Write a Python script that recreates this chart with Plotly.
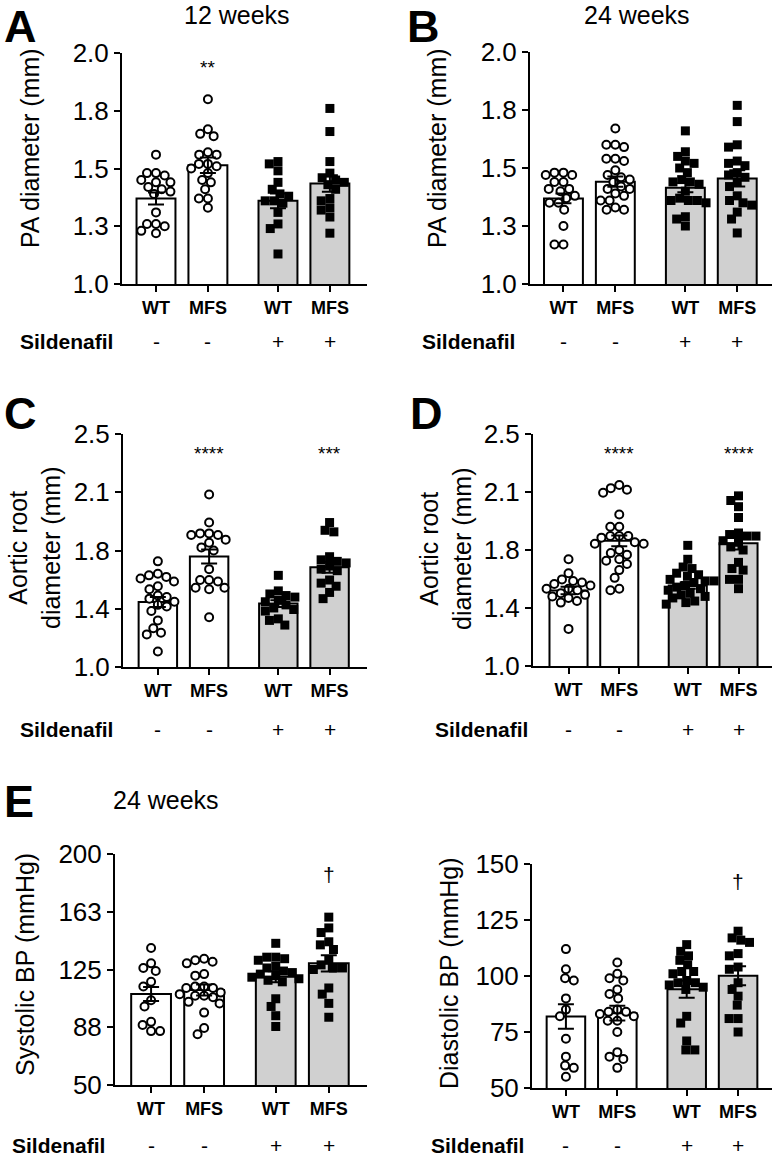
import numpy as np
import plotly.graph_objects as go

W, H = 776, 1158
FONT = "Liberation Sans, Arial, Helvetica, sans-serif"

# ---------------- data ----------------
groups = ["WT", "MFS", "WT", "MFS"]
sildenafil = ["-", "-", "+", "+"]
xpos = [0, 1, 2.35, 3.35]

# Panel A: PA diameter (mm), 12 weeks
a_wt = [1.56, 1.48, 1.48, 1.47, 1.44, 1.44, 1.45, 1.42, 1.41, 1.40, 1.39, 1.31, 1.26, 1.25, 1.26, 1.23, 1.22]
a_mfs = [1.80, 1.67, 1.64, 1.65, 1.56, 1.57, 1.56, 1.52, 1.52, 1.51, 1.50, 1.48, 1.45, 1.44, 1.41, 1.37, 1.37, 1.33]
a_wt_s = [1.52, 1.53, 1.49, 1.44, 1.41, 1.39, 1.38, 1.36, 1.36, 1.35, 1.31, 1.26, 1.24, 1.13]
a_mfs_s = [1.76, 1.66, 1.53, 1.48, 1.46, 1.45, 1.44, 1.43, 1.41, 1.37, 1.36, 1.32, 1.33, 1.29, 1.22]
a_means = [1.370, 1.514, 1.360, 1.435]
a_sems = [0.026, 0.034, 0.032, 0.036]
a_sig = ["", "**", "", ""]

# Panel B: PA diameter (mm), 24 weeks
b_wt = [1.48, 1.48, 1.47, 1.47, 1.44, 1.44, 1.41, 1.40, 1.41, 1.38, 1.37, 1.35, 1.35, 1.32, 1.25, 1.17, 1.17]
b_mfs = [1.67, 1.60, 1.59, 1.60, 1.54, 1.53, 1.54, 1.49, 1.47, 1.46, 1.45, 1.44, 1.42, 1.41, 1.41, 1.39, 1.38, 1.36, 1.36, 1.33, 1.32, 1.32]
b_wt_s = [1.66, 1.57, 1.55, 1.53, 1.52, 1.50, 1.48, 1.45, 1.44, 1.44, 1.43, 1.40, 1.37, 1.36, 1.36, 1.36, 1.35, 1.29, 1.28, 1.25]
b_mfs_s = [1.77, 1.70, 1.60, 1.59, 1.53, 1.52, 1.51, 1.48, 1.47, 1.46, 1.44, 1.42, 1.38, 1.36, 1.35, 1.34, 1.31, 1.28, 1.22]
b_means = [1.369, 1.441, 1.415, 1.455]
b_sems = [0.021, 0.022, 0.020, 0.035]
b_sig = ["", "", "", ""]

# Panel C: Aortic root diameter (mm), 12 weeks
c_wt = [1.68, 1.60, 1.59, 1.58, 1.57, 1.55, 1.52, 1.50, 1.46, 1.45, 1.44, 1.42, 1.40, 1.39, 1.36, 1.30, 1.25, 1.22, 1.21, 1.10]
c_mfs = [2.11, 1.93, 1.86, 1.85, 1.85, 1.86, 1.82, 1.80, 1.77, 1.75, 1.63, 1.56, 1.56, 1.55, 1.51, 1.51, 1.50, 1.32]
c_wt_s = [1.59, 1.49, 1.47, 1.46, 1.45, 1.43, 1.42, 1.40, 1.38, 1.37, 1.36, 1.31, 1.30, 1.27]
c_mfs_s = [1.93, 1.88, 1.87, 1.71, 1.69, 1.68, 1.67, 1.65, 1.63, 1.62, 1.56, 1.54, 1.52, 1.48, 1.44]
c_means = [1.418, 1.712, 1.408, 1.642]
c_sems = [0.032, 0.045, 0.022, 0.035]
c_sig = ["", "****", "", "***"]

# Panel D: Aortic root diameter (mm), 24 weeks
d_wt = [1.69, 1.60, 1.56, 1.55, 1.54, 1.53, 1.52, 1.50, 1.50, 1.49, 1.47, 1.46, 1.45, 1.44, 1.42, 1.41, 1.24]
d_mfs = [2.17, 2.14, 2.12, 2.15, 1.98, 1.90, 1.90, 1.84, 1.83, 1.84, 1.84, 1.80, 1.79, 1.79, 1.75, 1.73, 1.72, 1.69, 1.66, 1.62, 1.57, 1.50, 1.49, 1.68]
d_wt_s = [1.78, 1.69, 1.64, 1.63, 1.60, 1.59, 1.58, 1.56, 1.55, 1.55, 1.54, 1.52, 1.51, 1.50, 1.49, 1.47, 1.46, 1.45, 1.44, 1.42, 1.41, 1.40]
d_mfs_s = [2.10, 2.07, 2.03, 1.96, 1.86, 1.85, 1.84, 1.84, 1.81, 1.80, 1.77, 1.75, 1.67, 1.63, 1.62, 1.56, 1.56, 1.50]
d_means = [1.488, 1.809, 1.520, 1.794]
d_sems = [0.024, 0.034, 0.021, 0.040]
d_sig = ["", "****", "", "****"]

# Panel E: Systolic BP (mmHg), 24 weeks
e_wt = [139, 129, 126, 124, 117, 114, 105, 101, 91, 89, 85, 85]
e_mfs = [132, 131, 130, 129, 122, 121, 114, 114, 113, 113, 109, 108, 108, 107, 104, 103, 97, 87, 83, 110]
e_wt_s = [142, 133, 133, 132, 131, 127, 126, 124, 123, 122, 121, 120, 119, 118, 117, 106, 101, 95, 88]
e_mfs_s = [159, 152, 149, 143, 141, 138, 131, 128, 126, 126, 125, 113, 109, 103, 94]
e_means = [109.1, 111.7, 120.3, 129.0]
e_sems = [4.6, 3.6, 3.5, 5.3]
e_sig = ["", "", "", "\u2020"]

# Panel F: Diastolic BP (mmHg), 24 weeks
f_wt = [112, 103, 99, 98, 90, 85, 82, 72, 64, 60, 59, 55]
f_mfs = [106, 101, 99, 98, 94, 92, 90, 85, 84, 84, 83, 82, 80, 80, 75, 66, 64, 63, 59]
f_wt_s = [114, 111, 109, 107, 105, 102, 102, 101, 98, 97, 97, 96, 94, 82, 79, 71, 67, 67, 95]
f_mfs_s = [120, 117, 116, 115, 110, 109, 104, 103, 97, 94, 91, 87, 81, 81, 75]
f_means = [81.9, 83.4, 94.1, 100.1]
f_sems = [5.5, 3.3, 3.8, 4.2]
f_sig = ["", "", "", "\u2020"]

ticks_pa = [1.0, 1.25, 1.5, 1.75, 2.0]
ticktext_pa = ["1.0", "1.3", "1.5", "1.8", "2.0"]
ticks_ao = [1.0, 1.375, 1.75, 2.125, 2.5]
ticktext_ao = ["1.0", "1.4", "1.8", "2.1", "2.5"]
ticks_sbp = [50, 87.5, 125, 162.5, 200]
ticktext_sbp = ["50", "88", "125", "163", "200"]
ticks_dbp = [50, 75, 100, 125, 150]
ticktext_dbp = ["50", "75", "100", "125", "150"]

# ---------------- layout spec (page pixels) ----------------
panels = [
    dict(data=[a_wt, a_mfs, a_wt_s, a_mfs_s], means=a_means, sems=a_sems, sig=a_sig, sig_y=1.955,
         px=(122, 367), py=(53, 284), yr=(1.0, 2.0), xr=(-0.655, 4.065),
         tv=ticks_pa, tt=ticktext_pa, title="PA diameter (mm)", tx=30, ty=148,
         letter="A", lx=3, ly=0, row=341, sx=18, head="12 weeks", hx=237, hy=15),
    dict(data=[b_wt, b_mfs, b_wt_s, b_mfs_s], means=b_means, sems=b_sems, sig=b_sig, sig_y=1.95,
         px=(530, 772), py=(52, 284), yr=(1.0, 2.0), xr=(-0.645, 4.02),
         tv=ticks_pa, tt=ticktext_pa, title="PA diameter (mm)", tx=437, ty=148,
         letter="B", lx=406, ly=0, row=341, sx=420, head="24 weeks", hx=637, hy=15),
    dict(data=[c_wt, c_mfs, c_wt_s, c_mfs_s], means=c_means, sems=c_sems, sig=c_sig, sig_y=2.40,
         px=(123, 367), py=(434, 667), yr=(1.0, 2.5), xr=(-0.68, 4.08),
         tv=ticks_ao, tt=ticktext_ao, title="Aortic root<br>diameter (mm)", tx=34, ty=548,
         letter="C", lx=3, ly=387, row=730, sx=18, head=None),
    dict(data=[d_wt, d_mfs, d_wt_s, d_mfs_s], means=d_means, sems=d_sems, sig=d_sig, sig_y=2.40,
         px=(533, 772), py=(434, 666), yr=(1.0, 2.5), xr=(-0.70, 4.01),
         tv=ticks_ao, tt=ticktext_ao, title="Aortic root<br>diameter (mm)", tx=445, ty=548,
         letter="D", lx=409, ly=387, row=730, sx=433, head=None),
    dict(data=[e_wt, e_mfs, e_wt_s, e_mfs_s], means=e_means, sems=e_sems, sig=e_sig, sig_y=187.0,
         px=(115, 367), py=(854, 1085), yr=(50, 200), xr=(-0.68, 4.07),
         tv=ticks_sbp, tt=ticktext_sbp, title="Systolic BP (mmHg)", tx=25, ty=965,
         letter="E", lx=3, ly=775, row=1145, sx=10, head="24 weeks", hx=166, hy=800),
    dict(data=[f_wt, f_mfs, f_wt_s, f_mfs_s], means=f_means, sems=f_sems, sig=f_sig, sig_y=142.0,
         px=(532, 772), py=(864, 1088), yr=(50, 150), xr=(-0.66, 4.01),
         tv=ticks_dbp, tt=ticktext_dbp, title="Diastolic BP (mmHg)", tx=449, ty=973,
         letter=None, row=1145, sx=429, head=None),
]


def PX(v):
    return v / W


def PY(v):
    return 1 - v / H


def beeswarm(vals, sy, sx, d):
    vals = np.asarray(vals, dtype=float)
    order = np.argsort(-vals, kind="stable")
    placed = []
    offs = np.zeros(len(vals))
    for i in order:
        y = vals[i] * sy
        forb = []
        for (px_, py_) in placed:
            dy = abs(py_ - y)
            if dy < d:
                dx = np.sqrt(d * d - dy * dy)
                forb.append((px_ - dx, px_ + dx))
        cands = [0.0] + [a for a, b in forb] + [b for a, b in forb]
        cands.sort(key=lambda c: (abs(c), c))
        xx = 0.0
        for c in cands:
            if all(not (a + 1e-6 < c < b - 1e-6) for a, b in forb):
                xx = c
                break
        placed.append((xx, y))
        offs[i] = xx / sx
    return offs


fig = go.Figure()
annotations = []
fills = ["white", "white", "#d0d0d0", "#d0d0d0"]

for k, p in enumerate(panels):
    n = "" if k == 0 else str(k + 1)
    xa, ya = "x" + n, "y" + n
    x0, x1 = p["px"]
    y0, y1 = p["py"]
    sxu = (x1 - x0) / (p["xr"][1] - p["xr"][0])
    syu = (y1 - y0) / (p["yr"][1] - p["yr"][0])

    fig.add_trace(go.Bar(x=xpos, y=p["means"], width=0.75, marker=dict(color=fills, line=dict(color="black", width=2)),
                         xaxis=xa, yaxis=ya, showlegend=False, hoverinfo="skip"))
    for j, vals in enumerate(p["data"]):
        offs = beeswarm(vals, syu, sxu, 9.0)
        xs = [xpos[j] + o for o in offs]
        if j < 2:
            mk = dict(symbol="circle", size=8, color="white", line=dict(color="black", width=2))
        else:
            mk = dict(symbol="square", size=9, color="black", line=dict(width=0))
        fig.add_trace(go.Scatter(x=xs, y=vals, mode="markers", marker=mk, xaxis=xa, yaxis=ya,
                                 showlegend=False, cliponaxis=False, hoverinfo="skip"))
    fig.add_trace(go.Scatter(x=xpos, y=p["means"], mode="markers", marker=dict(size=1, opacity=0),
                             error_y=dict(type="data", array=p["sems"], color="black", thickness=2, width=8),
                             xaxis=xa, yaxis=ya, showlegend=False, hoverinfo="skip"))

    fig.layout["xaxis" + n] = dict(domain=[PX(x0), PX(x1)], range=list(p["xr"]), anchor=ya, automargin=False,
                                   showline=True, linewidth=2, linecolor="black", showgrid=False, zeroline=False,
                                   ticks="outside", ticklen=6, tickwidth=2, tickcolor="black",
                                   tickvals=xpos, ticktext=groups,
                                   tickfont=dict(family=FONT, size=18, color="black", weight="bold"))
    fig.layout["yaxis" + n] = dict(domain=[PY(y1), PY(y0)], range=list(p["yr"]), anchor=xa, automargin=False,
                                   showline=True, linewidth=2, linecolor="black", showgrid=False, zeroline=False,
                                   ticks="outside", ticklen=6, tickwidth=2, tickcolor="black",
                                   tickvals=p["tv"], ticktext=p["tt"],
                                   tickfont=dict(family=FONT, size=26, color="black"))

    for j, s in enumerate(p["sig"]):
        if s:
            annotations.append(dict(x=xpos[j], y=p["sig_y"], xref=xa, yref=ya, text=s, showarrow=False,
                                    font=dict(family=FONT, size=19 if "*" in s else 21, color="black"),
                                    yshift=-4 if "*" in s else 0))
    annotations.append(dict(x=PX(p["tx"]), y=PY(p["ty"]), xref="paper", yref="paper", text=p["title"],
                            textangle=-90, showarrow=False, font=dict(family=FONT, size=25, color="black"),
                            xanchor="center", yanchor="middle"))
    if p.get("letter"):
        annotations.append(dict(x=PX(p["lx"]), y=PY(p["ly"]), xref="paper", yref="paper", text="<b>%s</b>" % p["letter"],
                                showarrow=False, font=dict(family=FONT, size=45, color="black"),
                                xanchor="left", yanchor="top", borderpad=0))
    if p.get("head"):
        annotations.append(dict(x=PX(p["hx"]), y=PY(p["hy"]), xref="paper", yref="paper", text=p["head"],
                                showarrow=False, font=dict(family=FONT, size=25, color="black"),
                                xanchor="center", yanchor="middle"))
    annotations.append(dict(x=PX(p["sx"]), y=PY(p["row"]), xref="paper", yref="paper", text="<b>Sildenafil</b>",
                            showarrow=False, font=dict(family=FONT, size=21, color="black"),
                            xanchor="left", yanchor="middle"))
    for j, s in enumerate(sildenafil):
        annotations.append(dict(x=xpos[j], y=PY(p["row"]), xref=xa, yref="paper", text=s,
                                showarrow=False, font=dict(family=FONT, size=21, color="black"),
                                xanchor="center", yanchor="middle"))

fig.update_layout(width=W, height=H, margin=dict(l=0, r=0, t=0, b=0, pad=0),
                  paper_bgcolor="white", plot_bgcolor="white", showlegend=False,
                  barmode="overlay", annotations=annotations)
fig.write_html("out.html", config={"displayModeBar": False, "staticPlot": True},
               post_script="document.body.style.margin='0px';document.body.style.overflow='hidden';")
